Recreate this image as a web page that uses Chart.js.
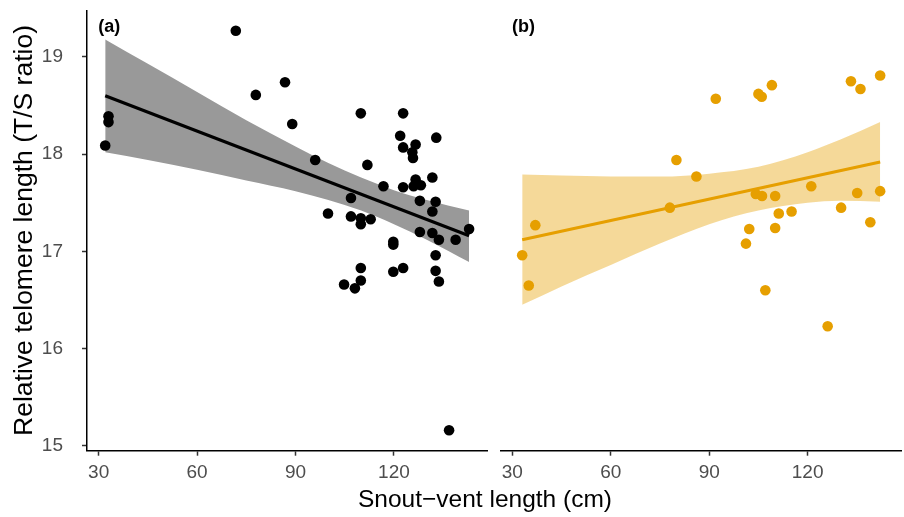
<!DOCTYPE html>
<html>
<head>
<meta charset="utf-8">
<script src="https://cdn.jsdelivr.net/npm/chart.js@4"></script>
<style>
  html, body { margin: 0; padding: 0; background: #fff; }
  #wrap { position: relative; width: 904px; height: 517px; overflow: hidden; }
  #wrap canvas { position: absolute; left: 0; top: 0; }
  #xTitle {
    position: absolute; left: 285px; width: 400px; top: 486.6px;
    text-align: center; font: 24.5px/1 "Liberation Sans", Arial, sans-serif; color: #000;
  }
</style>
</head>
<body>
<div id="wrap">
  <canvas id="panelA" width="904" height="517"></canvas>
  <canvas id="panelB" width="904" height="517"></canvas>
  <div id="xTitle">Snout−vent length (cm)</div>
</div>
<script>
// axis ticks and ranges shared by both panels
const xTicks = [30, 60, 90, 120];
const yTicks = [15, 16, 17, 18, 19];
const xRange = [26.45, 148.45];
const yRange = [14.95, 19.48];

// panel (a)
const svlA = [33.0, 33.0, 32.0, 71.8, 77.9, 86.8, 89.0, 96.0, 99.9, 104.8,
  106.9, 106.9, 108.1, 109.9, 109.9, 109.9, 109.9, 109.9, 111.9, 112.9,
  116.8, 119.8, 119.8, 119.8, 121.9, 122.8, 122.8, 122.8, 122.8, 125.6,
  125.8, 126.6, 126.6, 126.0, 128.2, 127.9, 127.9, 131.7, 131.7, 131.7,
  132.7, 132.7, 132.7, 132.9, 133.7, 133.7, 136.8, 138.8, 142.9];
const rtlA = [18.39, 18.33, 18.09, 19.27, 18.61, 18.74, 18.31, 17.94, 17.39, 16.66,
  17.55, 17.36, 16.62, 18.42, 17.34, 17.28, 16.83, 16.70, 17.89, 17.33,
  17.67, 17.10, 17.07, 16.79, 18.19, 18.42, 18.07, 17.66, 16.83, 18.02,
  17.96, 18.10, 17.74, 17.67, 17.68, 17.52, 17.20, 17.76, 17.41, 17.19,
  17.51, 16.96, 16.80, 18.17, 17.12, 16.69, 15.16, 17.12, 17.23];
const fitXA = [32, 142.9];
const fitYA = [18.60, 17.16];
const bandXA = [32, 45, 60, 75, 90, 100, 110, 120, 130, 142.9];
const bandHiA = [19.18, 18.93, 18.64, 18.35, 18.08, 17.91, 17.76, 17.63, 17.53, 17.42];
const bandLoA = [18.02, 17.94, 17.84, 17.73, 17.62, 17.53, 17.42, 17.28, 17.12, 16.89];

// panel (b)
const svlB = [80.0, 86.1, 78.0, 37.0, 33.0, 35.0, 92.0, 105.0, 106.0, 109.1,
  133.2, 136.1, 142.1, 104.2, 106.1, 110.1, 121.1, 135.1, 142.1, 111.2,
  115.1, 130.2, 102.2, 110.1, 139.1, 101.2, 107.1, 126.1];
const rtlB = [17.94, 17.77, 17.45, 17.27, 16.96, 16.65, 18.57, 18.62, 18.59, 18.71,
  18.75, 18.67, 18.81, 17.59, 17.57, 17.57, 17.67, 17.60, 17.62, 17.39,
  17.41, 17.45, 17.23, 17.24, 17.30, 17.08, 16.60, 16.23];
const fitXB = [33, 142.1];
const fitYB = [17.12, 17.92];
const bandXB = [33, 45, 60, 75, 90, 105, 120, 130, 142.1];
const bandHiB = [17.79, 17.78, 17.77, 17.77, 17.80, 17.87, 18.02, 18.15, 18.33];
const bandLoB = [16.45, 16.64, 16.86, 17.08, 17.28, 17.42, 17.50, 17.52, 17.51];

const FONT = '"Liberation Sans", Arial, sans-serif';

function pts(xs, ys) {
  return xs.map((x, i) => ({ x: x, y: ys[i] }));
}

function panelData(xs, ys, fx, fy, bx, hi, lo, col, bandCol) {
  return {
    datasets: [
      { type: 'scatter', data: pts(xs, ys), backgroundColor: col, borderWidth: 0, pointRadius: 5.3 },
      { type: 'line', data: pts(fx, fy), borderColor: col, borderWidth: 3.2, pointRadius: 0, fill: false },
      { type: 'line', data: pts(bx, hi), borderColor: 'transparent', borderWidth: 0, pointRadius: 0,
        backgroundColor: bandCol, fill: '+1', cubicInterpolationMode: 'monotone' },
      { type: 'line', data: pts(bx, lo), borderColor: 'transparent', borderWidth: 0, pointRadius: 0,
        fill: false, cubicInterpolationMode: 'monotone' }
    ]
  };
}

// "(a)" / "(b)" tag in the top left of each panel
const panelLabel = {
  id: 'panelLabel',
  afterDraw(chart, args, opts) {
    const ctx = chart.ctx;
    const x = chart.scales.x.getPixelForValue(opts.x);
    const y = chart.scales.y.getPixelForValue(opts.y);
    ctx.save();
    ctx.font = 'bold 18px ' + FONT;
    ctx.fillStyle = '#000';
    ctx.textBaseline = 'middle';
    ctx.fillText(opts.text, x, y);
    ctx.restore();
  }
};

function noPad(s) {
  s.paddingTop = 0; s.paddingBottom = 0; s.paddingLeft = 0; s.paddingRight = 0;
}

function xScale() {
  return {
    type: 'linear', min: xRange[0], max: xRange[1],
    afterBuildTicks: s => { s.ticks = xTicks.map(v => ({ value: v })); },
    afterFit: s => { s.height = 66.3; noPad(s); },
    ticks: { color: '#4d4d4d', font: { size: 19, family: FONT }, padding: 6, maxRotation: 0 },
    grid: { drawOnChartArea: false, tickLength: 5, tickWidth: 1.5, tickColor: '#333' },
    border: { color: '#000', width: 1.5 }
  };
}

function yScale(show) {
  return {
    type: 'linear', min: yRange[0], max: yRange[1], display: show,
    afterBuildTicks: s => { s.ticks = yTicks.map(v => ({ value: v })); },
    afterFit: s => { s.width = show ? 87 : 0; noPad(s); },
    ticks: { color: '#4d4d4d', font: { size: 19, family: FONT }, padding: 19 },
    grid: { drawOnChartArea: false, tickLength: 5, tickWidth: 1.5, tickColor: '#333' },
    border: { color: '#000', width: 1.5 },
    title: { display: true, text: 'Relative telomere length (T/S ratio)', color: '#000',
      font: { size: 26.5, family: FONT }, padding: { top: 9, bottom: 0 } }
  };
}

function baseOptions(padding, show, label) {
  return {
    responsive: false,
    animation: false,
    layout: { padding: padding, autoPadding: false },
    plugins: {
      legend: { display: false },
      tooltip: { enabled: false },
      panelLabel: { text: label, x: 29.9, y: 19.31 }
    },
    scales: { x: xScale(), y: yScale(show) }
  };
}

new Chart('panelA', {
  type: 'scatter',
  data: panelData(svlA, rtlA, fitXA, fitYA, bandXA, bandHiA, bandLoA, '#000000', '#999999'),
  options: baseOptions({ top: 10.3, right: 416.7, bottom: 0, left: 0 }, true, '(a)'),
  plugins: [panelLabel]
});

new Chart('panelB', {
  type: 'scatter',
  data: panelData(svlB, rtlB, fitXB, fitYB, bandXB, bandHiB, bandLoB, '#E69F00', 'rgba(230,159,0,0.4)'),
  options: baseOptions({ top: 10.3, right: 3, bottom: 0, left: 500.7 }, false, '(b)'),
  plugins: [panelLabel]
});
</script>
</body>
</html>
